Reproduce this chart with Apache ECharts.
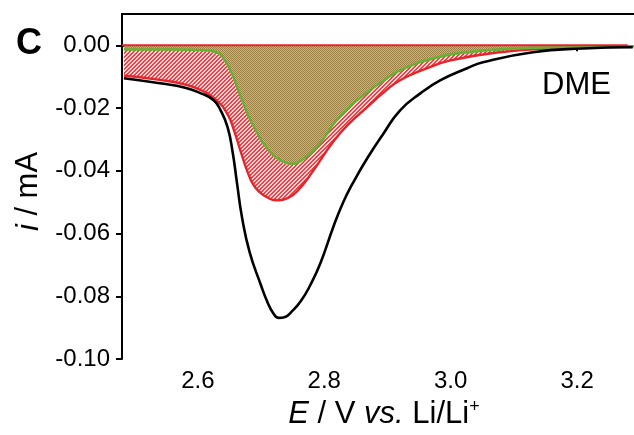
<!DOCTYPE html>
<html><head><meta charset="utf-8">
<script src="https://cdn.jsdelivr.net/npm/echarts@6/dist/echarts.min.js"></script>
<style>html,body{margin:0;padding:0;background:#fff}#c{width:634px;height:435px}</style>
</head><body><div id="c"></div>
<script>
// Potential (V vs Li/Li+) and current (mA)
const xBlack = [2.483, 2.54, 2.58, 2.605, 2.625, 2.636, 2.647, 2.655, 2.662, 2.670, 2.682, 2.699, 2.710, 2.719, 2.728, 2.738, 2.747, 2.763, 2.778, 2.794, 2.815, 2.830, 2.845, 2.868, 2.894, 2.920, 2.952, 2.984, 3.026, 3.051, 3.130, 3.209, 3.288];
const yBlack = [-0.0105, -0.0121, -0.0135, -0.0153, -0.0175, -0.0207, -0.0261, -0.0340, -0.0440, -0.0550, -0.0660, -0.0760, -0.0818, -0.0853, -0.0869, -0.0866, -0.0852, -0.0815, -0.0764, -0.0694, -0.0575, -0.0500, -0.0440, -0.0360, -0.0280, -0.0207, -0.0153, -0.0111, -0.0073, -0.0054, -0.0022, -0.0010, -0.0006];
const xRed = [2.483, 2.54, 2.58, 2.605, 2.628, 2.647, 2.657, 2.668, 2.678, 2.688, 2.699, 2.710, 2.723, 2.742, 2.763, 2.783, 2.815, 2.840, 2.868, 2.894, 2.920, 2.960, 3.000, 3.078, 3.157, 3.236, 3.280];
const yRed = [-0.0096, -0.0110, -0.0125, -0.0143, -0.0172, -0.0220, -0.0270, -0.0340, -0.0400, -0.0445, -0.0470, -0.0485, -0.0494, -0.0487, -0.0452, -0.0398, -0.0305, -0.0248, -0.0197, -0.0150, -0.0111, -0.0075, -0.0048, -0.0022, -0.0010, -0.0006, -0.0004];
const xGreen = [2.483, 2.56, 2.613, 2.632, 2.645, 2.655, 2.668, 2.680, 2.690, 2.710, 2.730, 2.747, 2.763, 2.783, 2.800, 2.815, 2.840, 2.868, 2.894, 2.920, 2.973, 3.026, 3.105, 3.184, 3.290];
const yGreen = [-0.0013, -0.0013, -0.0016, -0.0024, -0.0055, -0.0095, -0.0165, -0.0225, -0.0265, -0.0330, -0.0365, -0.0378, -0.0368, -0.0334, -0.0295, -0.0250, -0.0195, -0.0150, -0.0112, -0.0080, -0.0041, -0.0022, -0.0010, -0.0006, -0.0003];
const xBase = [2.48, 3.28];
const yBase = [0, 0];
const xTicks = [2.6, 2.8, 3.0, 3.2];
const yTicks = [-0.10, -0.08, -0.06, -0.04, -0.02, 0.00];

function zip(xs, ys){ return xs.map((x,i)=>[x, ys[i]]); }

function makePattern(size, fn){
  const c = document.createElement('canvas'); c.width = size; c.height = size;
  const g = c.getContext('2d');
  for(let x=0;x<size;x++) for(let y=0;y<size;y++){ g.fillStyle = fn(x,y); g.fillRect(x,y,1,1); }
  return c;
}
const redHatch = makePattern(4, (x,y)=> ((x+y)%4<2) ? '#e8454d' : '#fbd2d2');
const olive = makePattern(2, (x,y)=> ((x+y)%2===0) ? '#9a8044' : '#cfb27e');

const FONT = 'Liberation Sans, Arial, sans-serif';
const chart = echarts.init(document.getElementById('c'), null, {renderer:'canvas'});
chart.setOption({
  animation:false,
  grid:{left:122, right:0, top:14, bottom:76, containLabel:false},
  xAxis:[{
    type:'value', min:2.48, max:3.29, position:'bottom',
    axisLine:{lineStyle:{color:'#000', width:2}},
    axisTick:{show:true, length:6, lineStyle:{color:'#000', width:2}, customValues:xTicks},
    axisLabel:{color:'#000', fontSize:24, fontFamily:FONT, margin:10, customValues:xTicks, formatter:v=>v.toFixed(1)},
    splitLine:{show:false},
    name:'{i|E} / V {i|vs.} Li/Li{s|+}', nameLocation:'middle', nameGap:37,
    nameTextStyle:{color:'#000', fontSize:31, fontFamily:FONT, padding:[0,0,0,12],
      rich:{i:{fontStyle:'italic', fontSize:31, fontFamily:FONT, color:'#000'}, s:{fontSize:18, fontFamily:FONT, color:'#000', padding:[0,0,15,0]}}}
  },{
    type:'value', min:2.48, max:3.29, position:'top',
    axisLine:{show:true, lineStyle:{color:'#000', width:2}},
    axisTick:{show:false}, axisLabel:{show:false}, splitLine:{show:false}
  }],
  yAxis:{
    type:'value', min:-0.1, max:0.01,
    axisLine:{show:true, lineStyle:{color:'#000', width:2}},
    axisTick:{show:true, length:6, lineStyle:{color:'#000', width:2}, customValues:yTicks},
    axisLabel:{color:'#000', fontSize:24, fontFamily:FONT, margin:12, customValues:yTicks, formatter:v=>v.toFixed(2)},
    splitLine:{show:false},
    name:'{i|i} / mA', nameLocation:'middle', nameGap:76,
    nameTextStyle:{color:'#000', fontSize:31, fontFamily:FONT, padding:[0,10,0,0],
      rich:{i:{fontStyle:'italic', fontSize:31, fontFamily:FONT, color:'#000'}}}
  },
  series:[
    {type:'line', data:zip(xRed,yRed), showSymbol:false, smooth:0.5,
      lineStyle:{color:'#e3252e', width:2.4}, areaStyle:{color:{image:redHatch, repeat:'repeat'}, opacity:1}, z:2},
    {type:'line', data:zip(xGreen,yGreen), showSymbol:false, smooth:0.5,
      lineStyle:{color:'#62b233', width:2.4}, areaStyle:{color:{image:olive, repeat:'repeat'}, opacity:1}, z:3},
    {type:'line', data:zip(xBase,yBase), showSymbol:false, lineStyle:{color:'#e3252e', width:2}, z:4},
    {type:'line', data:zip(xBlack,yBlack), showSymbol:false, smooth:0.5,
      lineStyle:{color:'#000', width:2.6}, z:5}
  ],
  graphic:[
    {type:'text', left:16, top:26, style:{text:'C', fontSize:36, fontWeight:'bold', fontFamily:FONT, fill:'#000'}},
    {type:'text', left:542, top:70, style:{text:'DME', fontSize:31, fontFamily:FONT, fill:'#000'}}
  ]
});
</script></body></html>
